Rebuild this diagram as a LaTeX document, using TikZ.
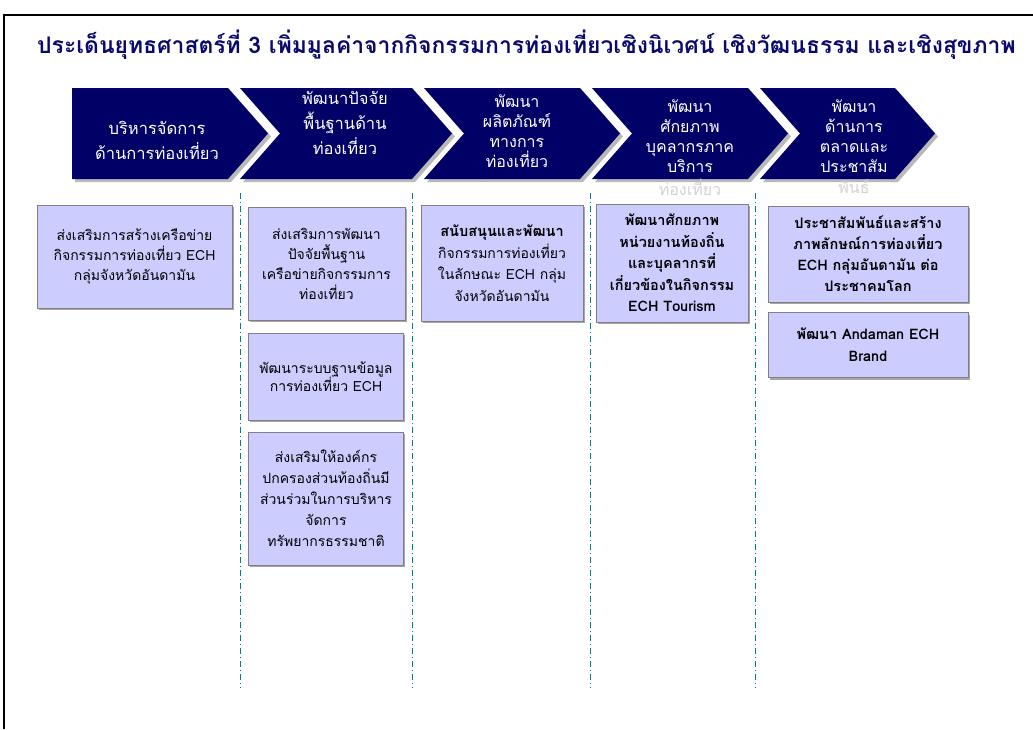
\documentclass[tikz,border=0pt]{standalone}
\usepackage{fontspec}
\setmainfont[Script=Thai]{Loma}
\usetikzlibrary{shadows}
\definecolor{navy}{RGB}{0,0,102}
\definecolor{titleblue}{RGB}{10,10,110}
\definecolor{lav}{RGB}{204,204,255}
\definecolor{boxline}{RGB}{128,128,128}
\definecolor{sepcol}{RGB}{0,128,128}
\tikzset{
  chev/.style={fill=navy},
  chevshadow/.style={fill=gray!55},
  chevtext/.style={text=white, align=center, inner sep=0pt, font=\fontsize{16.5}{25}\selectfont},
  chevtextb/.style={text=white, align=center, inner sep=0pt, font=\fontsize{16}{20}\selectfont},
  box/.style={draw=boxline, line width=0.8pt, fill=lav, align=center, inner sep=2pt,
    font=\fontsize{14}{20}\selectfont,
    drop shadow={shadow xshift=1.5pt, shadow yshift=-2pt, fill=gray!70, opacity=1}},
  sep/.style={draw=sepcol, line width=0.8pt, dash pattern=on 6pt off 3pt on 1pt off 3pt},
  frame/.style={draw=black, line width=2pt}
}
\begin{document}
\begin{tikzpicture}[x=1pt,y=-1pt]
\useasboundingbox (0,0) rectangle (1033,729);
% frame
\coordinate (fbl) at (4,729);
\coordinate (ftl) at (4,15);
\coordinate (ftr) at (1033,15);
\draw[frame] (fbl) -- (ftl) -- (ftr);
% title
\node[anchor=west, inner sep=0pt, text=titleblue, font=\fontsize{22.9}{26}\selectfont\bfseries] (title) at (37,45)
  {ประเด็นยุทธศาสตร์ที่ 3 เพิ่มมูลค่าจากกิจกรรมการท่องเที่ยวเชิงนิเวศน์ เชิงวัฒนธรรม และเชิงสุขภาพ};
% chevrons (shadow then body)
\def\ct{88}\def\cb{179}\def\cm{133.5}\def\dd{40}
\foreach \L/\T/\first in {72/268/1,240/452/0,424/620/0,592/788/0,760/935/0}{
  \pgfmathsetmacro{\R}{\T-\dd}
  \pgfmathsetmacro{\N}{\L+\dd}
  \ifnum\first=1
    \fill[chevshadow] (\L+3,\ct+3) -- (\R+3,\ct+3) -- (\T+3,\cm+3) -- (\R+3,\cb+3) -- (\L+3,\cb+3) -- cycle;
    \fill[chev] (\L,\ct) -- (\R,\ct) -- (\T,\cm) -- (\R,\cb) -- (\L,\cb) -- cycle;
  \else
    \fill[chevshadow] (\L+3,\ct+3) -- (\R+3,\ct+3) -- (\T+3,\cm+3) -- (\R+3,\cb+3) -- (\L+3,\cb+3) -- (\N+3,\cm+3) -- cycle;
    \fill[chev] (\L,\ct) -- (\R,\ct) -- (\T,\cm) -- (\R,\cb) -- (\L,\cb) -- (\N,\cm) -- cycle;
  \fi
}
\node[chevtext] (c1) at (157,140) {บริหารจัดการ\\ด้านการท่องเที่ยว};
\node[chevtext] (c2) at (345,123) {พัฒนาปัจจัย\\พื้นฐานด้าน\\ท่องเที่ยว};
\node[chevtextb] (c3) at (517,131) {พัฒนา\\ผลิตภัณฑ์\\ทางการ\\ท่องเที่ยว};
\node[chevtextb] (c4) at (690,136) {พัฒนา\\ศักยภาพ\\บุคลากรภาค\\บริการ};
\node[chevtextb, text=gray!35] (c4x) at (690,187) {ท่องเที่ยว};
\node[chevtextb] (c5) at (854,136) {พัฒนา\\ด้านการ\\ตลาดและ\\ประชาสัม};
\node[chevtextb, text=gray!35] (c5x) at (854,187) {พันธ์};
% separators
\foreach \i/\x in {1/240,2/412,3/590,4/755}{
  \coordinate (s\i t) at (\x,193);
  \coordinate (s\i b) at (\x,688);
  \draw[sep] (s\i t) -- (s\i b);
}
% boxes
\node[box, minimum width=195pt, minimum height=103pt] (b1) at (134.5,256.5)
  {ส่งเสริมการสร้างเครือข่าย\\กิจกรรมการท่องเที่ยว ECH\\กลุ่มจังหวัดอันดามัน};
\node[box, minimum width=157pt, minimum height=113pt] (b2) at (326.5,263.5)
  {ส่งเสริมการพัฒนา\\ปัจจัยพื้นฐาน\\เครือข่ายกิจกรรมการ\\ท่องเที่ยว};
\node[box, minimum width=155pt, minimum height=87pt, font=\fontsize{14}{18.5}\selectfont] (b2b) at (326,376.5)
  {พัฒนาระบบฐานข้อมูล\\การท่องเที่ยว ECH};
\node[box, minimum width=155pt, minimum height=133pt, font=\fontsize{14}{21}\selectfont] (b2c) at (326,498.5)
  {ส่งเสริมให้องค์กร\\ปกครองส่วนท้องถิ่นมี\\ส่วนร่วมในการบริหาร\\จัดการ\\ทรัพยากรธรรมชาติ};
\node[box, minimum width=162pt, minimum height=116pt, font=\fontsize{14}{21.5}\selectfont] (b3) at (502,263)
  {\textbf{\fontsize{14.5}{21.5}\selectfont สนับสนุนและพัฒนา}\\กิจกรรมการท่องเที่ยว\\ในลักษณะ ECH กลุ่ม\\จังหวัดอันดามัน};
\node[box, minimum width=152pt, minimum height=118pt, font=\fontsize{14.5}{21.5}\selectfont\bfseries] (b4) at (672,263)
  {พัฒนาศักยภาพ\\หน่วยงานท้องถิ่น\\และบุคลากรที่\\เกี่ยวข้องในกิจกรรม\\ECH Tourism};
\node[box, minimum width=200pt, minimum height=96pt, font=\fontsize{14.5}{21}\selectfont\bfseries] (b5) at (868,254)
  {ประชาสัมพันธ์และสร้าง\\ภาพลักษณ์การท่องเที่ยว\\ECH กลุ่มอันดามัน ต่อ\\ประชาคมโลก};
\node[box, minimum width=200pt, minimum height=65pt, font=\fontsize{14.5}{22}\selectfont\bfseries] (b6) at (868,345)
  {พัฒนา Andaman ECH\\Brand};
\end{tikzpicture}
\end{document}
